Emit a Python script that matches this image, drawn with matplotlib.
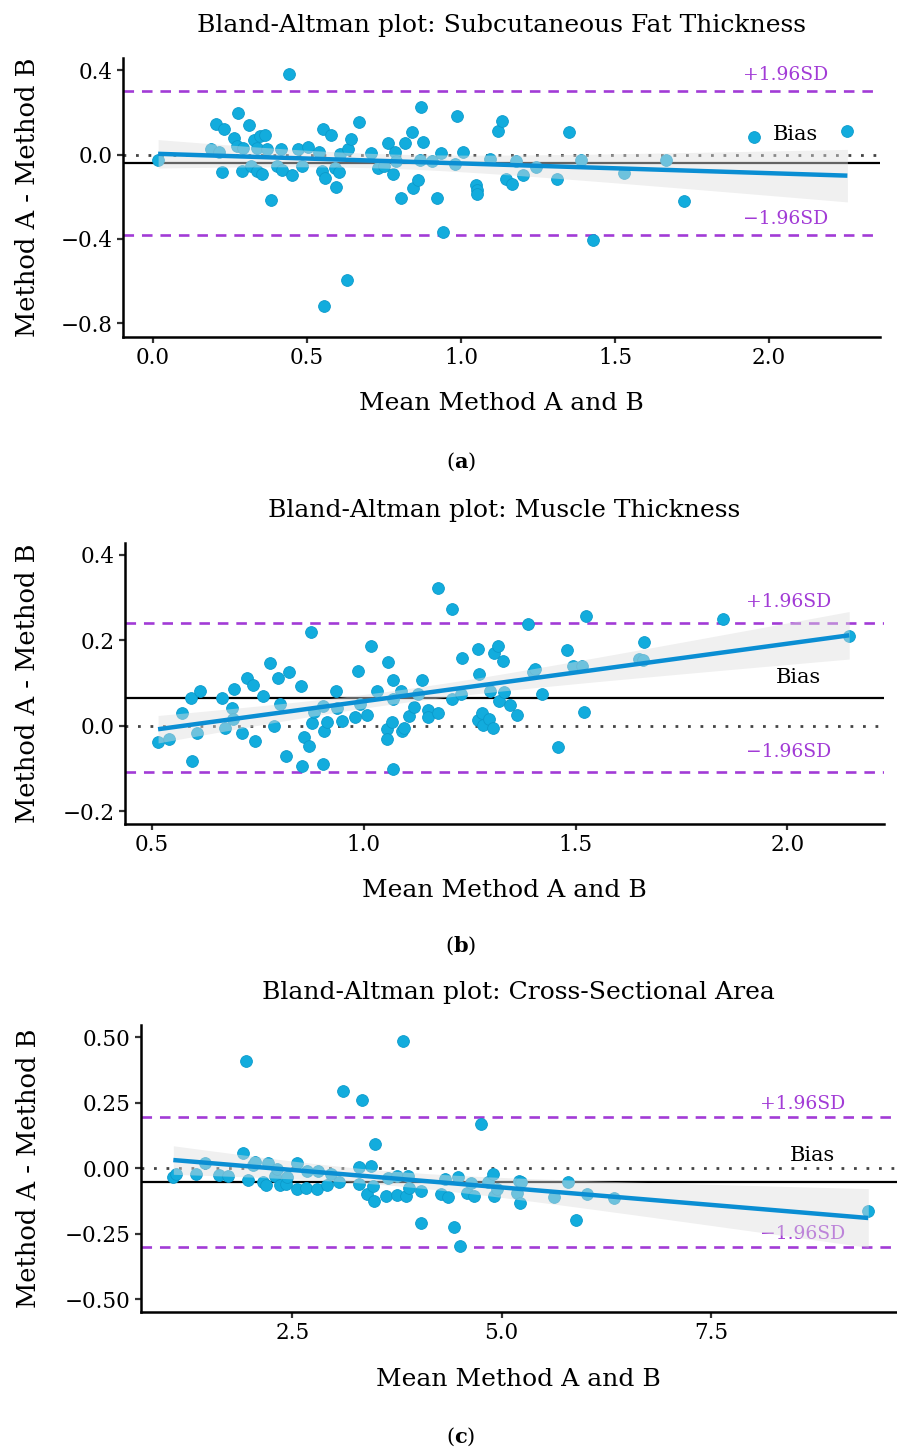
import matplotlib
matplotlib.use("Agg")
import matplotlib.pyplot as plt
import numpy as np

plt.rcParams['font.family'] = ['DejaVu Serif']
plt.rcParams['mathtext.fontset'] = 'custom'
plt.rcParams['mathtext.rm'] = 'DejaVu Serif'
plt.rcParams['mathtext.bf'] = 'DejaVu Serif:bold'

# (a) subcutaneous fat thickness
fat_mean = [0.017, 0.443, 0.204, 0.23, 0.277, 0.313, 0.263, 0.274, 0.293, 0.328,
            0.347, 0.364, 0.337, 0.372, 0.19, 0.215, 0.223, 0.29, 0.318, 0.337,
            0.353, 0.385, 0.402, 0.416, 0.42, 0.452, 0.47, 0.483, 0.504, 0.54,
            0.553, 0.578, 0.548, 0.558, 0.593, 0.591, 0.605, 0.607, 0.632, 0.643,
            0.67, 0.555, 0.629, 0.707, 0.732, 0.751, 0.764, 0.78, 0.786, 0.789,
            0.804, 0.818, 0.842, 0.845, 0.859, 0.87, 0.876, 0.867, 0.905, 0.921,
            0.934, 0.943, 0.988, 1.008, 0.981, 1.049, 1.051, 1.051, 1.094, 1.119,
            1.134, 1.145, 1.165, 1.18, 1.202, 1.243, 1.313, 1.351, 1.39, 1.428,
            1.529, 1.665, 1.723, 1.952, 2.254]
fat_diff = [-0.028, 0.383, 0.143, 0.122, 0.197, 0.142, 0.080, 0.039, 0.031, 0.068,
            0.09, 0.093, 0.031, 0.028, 0.024, 0.011, -0.082, -0.079, -0.055, -0.079,
            -0.091, -0.216, -0.055, 0.028, -0.071, -0.095, 0.024, -0.055, 0.035, 0.011,
            0.122, 0.093, -0.079, -0.11, -0.155, -0.063, -0.084, 0.003, 0.024, 0.074,
            0.156, -0.718, -0.592, 0.008, -0.063, -0.055, 0.055, -0.09, 0.011, -0.032,
            -0.205, 0.055, 0.106, -0.158, -0.123, 0.227, 0.06, -0.024, -0.032, -0.208,
            0.008, -0.366, 0.181, 0.013, -0.044, -0.142, -0.166, -0.186, -0.019, 0.11,
            0.161, -0.114, -0.139, -0.032, -0.098, -0.06, -0.114, 0.106, -0.024, -0.407,
            -0.087, -0.024, -0.219, 0.082, 0.109]
fat_limits = [-0.038, 0.30, -0.38]  # bias, +1.96SD, -1.96SD

# (b) muscle thickness
mus_mean = [0.514, 0.539, 0.571, 0.591, 0.614, 0.594, 0.606, 0.666, 0.688, 0.694,
            0.691, 0.672, 0.713, 0.725, 0.737, 0.742, 0.761, 0.778, 0.797, 0.802,
            0.788, 0.816, 0.823, 0.851, 0.858, 0.87, 0.854, 0.875, 0.877, 0.883,
            0.903, 0.906, 0.904, 0.914, 0.933, 0.937, 0.949, 0.98, 0.985, 0.991,
            1.008, 1.016, 1.03, 1.054, 1.054, 1.058, 1.066, 1.068, 1.068, 1.069,
            1.088, 1.089, 1.095, 1.106, 1.119, 1.127, 1.137, 1.151, 1.152, 1.174,
            1.176, 1.207, 1.207, 1.229, 1.231, 1.27, 1.272, 1.269, 1.28, 1.282,
            1.296, 1.298, 1.306, 1.308, 1.317, 1.328, 1.32, 1.331, 1.345, 1.362,
            1.387, 1.4, 1.404, 1.42, 1.458, 1.479, 1.495, 1.516, 1.52, 1.524,
            1.65, 1.658, 1.662, 1.849, 2.146]
mus_diff = [-0.037, -0.031, 0.029, 0.064, 0.082, -0.083, -0.016, 0.066, 0.042, 0.086,
            0.017, -0.006, -0.018, 0.113, 0.095, -0.035, 0.07, 0.148, 0.111, 0.052,
            0.0, -0.07, 0.127, 0.094, -0.027, -0.048, -0.094, 0.22, 0.006, 0.033,
            0.047, -0.012, -0.09, 0.008, 0.082, 0.042, 0.012, 0.02, 0.129, 0.052,
            0.025, 0.187, 0.082, -0.008, -0.032, 0.149, 0.009, -0.101, 0.063, 0.107,
            0.081, -0.012, -0.004, 0.023, 0.045, 0.074, 0.107, 0.038, 0.021, 0.029,
            0.322, 0.063, 0.274, 0.074, 0.159, 0.181, 0.121, 0.013, 0.031, 0.002,
            0.016, 0.081, -0.006, 0.17, 0.187, 0.152, 0.059, 0.078, 0.049, 0.025,
            0.238, 0.125, 0.132, 0.074, -0.05, 0.177, 0.141, 0.141, 0.033, 0.258,
            0.156, 0.154, 0.197, 0.249, 0.211]
mus_limits = [0.065, 0.241, -0.109]

# (c) cross-sectional area
csa_mean = [1.079, 1.111, 1.35, 1.457, 1.625, 1.736, 1.915, 1.943, 1.967, 2.027,
            2.054, 2.146, 2.182, 2.206, 2.293, 2.321, 2.353, 2.421, 2.433, 2.553,
            2.56, 2.66, 2.679, 2.799, 2.803, 2.918, 2.958, 3.058, 3.109, 3.296,
            3.3, 3.336, 3.396, 3.436, 3.488, 3.479, 3.467, 3.615, 3.639, 3.754,
            3.747, 3.826, 3.858, 3.886, 3.898, 4.034, 4.037, 4.272, 4.324, 4.363,
            4.435, 4.483, 4.503, 4.583, 4.634, 4.674, 4.754, 4.834, 4.901, 4.909,
            4.941, 5.187, 5.207, 5.219, 5.228, 5.626, 5.789, 5.885, 6.016, 6.342,
            9.379]
csa_diff = [-0.034, -0.023, -0.022, 0.021, -0.026, -0.029, 0.06, 0.411, -0.045, 0.013,
            0.025, -0.051, -0.064, 0.019, -0.029, -0.004, -0.064, -0.06, -0.032, 0.019,
            -0.079, -0.076, -0.009, -0.08, -0.009, -0.064, -0.022, -0.051, 0.295, 0.006,
            -0.06, 0.261, -0.098, 0.01, 0.092, -0.125, -0.068, -0.105, -0.038, -0.029,
            -0.102, 0.487, -0.105, -0.029, -0.076, -0.085, -0.21, -0.099, -0.042, -0.108,
            -0.225, -0.032, -0.297, -0.095, -0.057, -0.105, 0.168, -0.051, -0.022, -0.105,
            -0.079, -0.095, -0.048, -0.131, -0.053, -0.108, -0.053, -0.198, -0.099, -0.112,
            -0.162]
csa_limits = [-0.051, 0.197, -0.299]

titles = ["Bland-Altman plot: Subcutaneous Fat Thickness",
          "Bland-Altman plot: Muscle Thickness",
          "Bland-Altman plot: Cross-Sectional Area"]
captions = ["a", "b", "c"]

POINT = '#12ACDD'
LINE = '#0A8ED3'
PURPLE = '#A23BD6'


def fit_band(x, y, grid):
    # linear fit with 95% confidence band (like geom_smooth(method='lm'))
    n = len(x)
    coef = np.polyfit(x, y, 1)
    yhat = np.polyval(coef, grid)
    resid = y - np.polyval(coef, x)
    s = np.sqrt(np.sum(resid ** 2) / (n - 2))
    xm = x.mean()
    se = s * np.sqrt(1.0 / n + (grid - xm) ** 2 / np.sum((x - xm) ** 2))
    return yhat, 1.99 * se


def draw_panel(ax, mean, diff, limits, title, xlim, ylim, xticks, yticks, yfmt,
               lab_off, bias_off, ylab_x):
    mean = np.array(mean)
    diff = np.array(diff)
    bias, upper, lower = limits

    ax.axhline(0, color='#444444', ls=(0, (1, 3.5)), lw=2.0, zorder=1)
    ax.axhline(bias, color='black', lw=1.6, zorder=1)
    ax.axhline(upper, color=PURPLE, ls=(0, (4, 3)), lw=1.9, zorder=1)
    ax.axhline(lower, color=PURPLE, ls=(0, (4, 3)), lw=1.9, zorder=1)

    ax.scatter(mean, diff, s=72, color=POINT, edgecolor='#0B9ACB', lw=0.6, zorder=2)

    tr = ax.get_yaxis_transform()
    ax.text(0.875, upper + lab_off, "+1.96SD", transform=tr, ha='center', va='center',
            color=PURPLE, fontsize=13.5, zorder=2)
    ax.text(0.875, lower + lab_off, "\u22121.96SD", transform=tr, ha='center', va='center',
            color=PURPLE, fontsize=13.5, zorder=2)
    ax.text(0.888, bias + bias_off, "Bias", transform=tr, ha='center', va='center',
            color='black', fontsize=15, zorder=2)

    grid = np.linspace(mean.min(), mean.max(), 100)
    yhat, ci = fit_band(mean, diff, grid)
    ax.fill_between(grid, yhat - ci, yhat + ci, color='#dedede', alpha=0.45, lw=0, zorder=3)
    ax.plot(grid, yhat, color=LINE, lw=3.2, zorder=4, solid_capstyle='butt')

    ax.set_xlim(*xlim)
    ax.set_ylim(*ylim)
    ax.set_xticks(xticks)
    ax.set_yticks(yticks)
    ax.set_xticklabels([f"{t:.1f}" for t in xticks])
    ax.set_yticklabels([yfmt.format(t).replace('-', '\u2212') for t in yticks])
    ax.tick_params(labelsize=15.5, length=4.5, width=1.6, color='#333333', pad=3)

    for side in ['top', 'right']:
        ax.spines[side].set_visible(False)
    for side in ['left', 'bottom']:
        ax.spines[side].set_linewidth(1.8)

    ax.set_title(title, fontsize=18, pad=19)
    ax.set_xlabel("Mean Method A and B", fontsize=18, va='center')
    ax.xaxis.set_label_coords(0.5, -0.237)
    ax.set_ylabel("Method A - Method B", fontsize=18.5, va='center')
    ax.yaxis.set_label_coords(ylab_x, 0.5)


fig = plt.figure(figsize=(8.97, 14.5), dpi=100)

ax_a = fig.add_axes([0.1371, 0.7676, 0.844, 0.1924])
ax_b = fig.add_axes([0.1394, 0.4317, 0.846, 0.1938])
ax_c = fig.add_axes([0.1569, 0.0952, 0.8431, 0.1979])

draw_panel(ax_a, fat_mean, fat_diff, fat_limits, titles[0],
           (-0.097, 2.36), (-0.864, 0.457), [0.0, 0.5, 1.0, 1.5, 2.0],
           [-0.8, -0.4, 0.0, 0.4], "{:.1f}", 0.075, 0.133, -0.1255)
draw_panel(ax_b, mus_mean, mus_diff, mus_limits, titles[1],
           (0.436, 2.228), (-0.230, 0.428), [0.5, 1.0, 1.5, 2.0],
           [-0.2, 0.0, 0.2, 0.4], "{:.1f}", 0.048, 0.047, -0.128)
draw_panel(ax_c, csa_mean, csa_diff, csa_limits, titles[2],
           (0.69, 9.722), (-0.548, 0.547), [2.5, 5.0, 7.5],
           [-0.5, -0.25, 0.0, 0.25, 0.5], "{:.2f}", 0.048, 0.10, -0.149)

for cap, yy in zip(captions, [462, 946, 1437]):
    fig.text(461 / 897, 1 - yy / 1450, r"$(\mathbf{" + cap + r"})$", ha='center', va='center',
             fontsize=15)

fig.savefig("out.png", dpi=100)
